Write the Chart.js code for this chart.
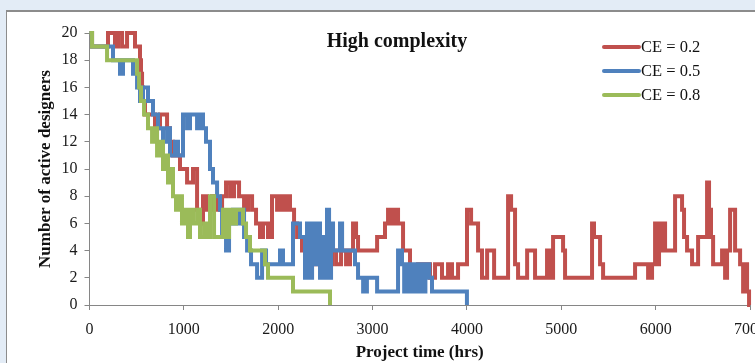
<!DOCTYPE html>
<html>
<head>
<meta charset="utf-8">
<script src="https://cdn.jsdelivr.net/npm/chart.js@4.4.0/dist/chart.umd.min.js"></script>
<style>
  html, body { margin: 0; padding: 0; overflow: hidden; width: 755px; height: 363px; background: #e3ecf6; }
  #panel { position: absolute; left: 6px; top: 10px; width: 800px; height: 400px; background: #fff;
           border-left: 1px solid #8c8c8c; border-top: 2px solid #8c8c8c; }
  #wrap { position: absolute; left: 0; top: 0; }
</style>
</head>
<body>
<div id="panel"></div>
<div id="wrap"><canvas id="chart" width="800" height="363"></canvas></div>
<script>
// step data: each value holds from its time until the next time
const redTimes = [0,27,196,270,302,345,398,482,535,546,557,567,588,694,747,822,853,885,959,1034,
  1097,1140,1171,1203,1245,1298,1352,1405,1447,1490,1532,1585,1638,1680,1723,1765,1807,1839,1892,1934,
  1988,2020,2051,2083,2125,2168,2200,2252,2295,2337,2380,2443,2507,2570,2613,2666,2719,2761,2793,2825,
  2846,3048,3132,3164,3196,3238,3270,3323,3397,3482,3609,3662,3736,3800,3842,3906,4001,4044,4118,4160,
  4214,4288,4436,4468,4510,4542,4638,4722,4849,4881,4913,5019,5040,5326,5347,5411,5443,5782,5920,5962,
  5994,6015,6036,6057,6079,6100,6206,6280,6301,6333,6386,6450,6545,6566,6587,6609,6704,6736,6757,6789,
  6842,6895,6927,6948,6969,6990,7000];
const redVals = [20,19,20,19,20,19,20,19,18,17,16,15,14,13,14,13,12,11,10,9,
  10,7,6,8,7,8,7,8,9,8,9,8,7,8,7,6,5,6,5,8,
  7,8,7,8,7,6,5,4,3,4,3,4,3,4,3,4,3,4,6,5,
  4,5,6,7,6,7,6,4,2,3,2,3,2,3,2,3,7,6,4,2,
  4,2,8,7,3,2,4,2,4,2,5,4,2,6,5,3,2,3,2,3,
  6,3,6,4,6,4,8,7,5,4,3,5,9,7,5,3,4,2,4,7,
  4,3,1,3,1,0,0];

const blueTimes = [0,27,249,323,355,461,504,535,567,620,673,726,779,822,853,906,938,991,1034,1065,
  1140,1171,1203,1235,1277,1309,1352,1383,1405,1447,1479,1521,1553,1595,1638,1670,1712,1776,1829,1871,
  2019,2051,2157,2231,2284,2305,2337,2359,2390,2422,2443,2475,2496,2517,2539,2560,2581,2655,2677,2814,
  2846,2900,2940,3048,3270,3312,3335,3365,3400,3425,3465,3495,3535,3560,3600,3630,4000];
const blueVals = [20,19,18,17,18,17,16,15,16,15,14,13,12,13,11,12,11,14,13,14,
  13,14,13,12,10,9,8,7,5,4,6,7,6,7,5,4,3,2,4,3,
  4,3,6,5,2,6,2,6,3,6,2,5,2,7,2,6,4,6,4,3,
  2,1,2,1,4,3,1,3,1,3,1,3,1,3,2,1,0];

const greenTimes = [0,27,186,504,525,546,578,620,663,694,716,747,779,811,832,864,885,917,949,980,
  1012,1044,1065,1097,1140,1171,1214,1245,1277,1320,1415,1447,1479,1521,1553,1627,1659,1701,1860,1892,
  2157,2549];
const greenVals = [20,19,18,17,16,15,14,13,12,13,11,12,10,11,9,10,8,7,8,6,
  7,5,7,6,7,5,6,5,8,5,7,5,7,6,7,6,5,4,3,2,
  1,0];

const seriesLabels = ['CE = 0.2', 'CE = 0.5', 'CE = 0.8'];
const seriesColors = ['#c0504d', '#4f81bd', '#9bbb59'];
const xTicks = [0, 1000, 2000, 3000, 4000, 5000, 6000, 7000];
const yTicks = [0, 2, 4, 6, 8, 10, 12, 14, 16, 18, 20];

const serif = '"Liberation Serif", "Times New Roman", serif';
const axisGray = '#868686';

function pairs(ts, vs) {
  return ts.map((t, i) => ({ x: t, y: vs[i] }));
}

function mkSeries(i, ts, vs, order) {
  return {
    label: seriesLabels[i],
    data: pairs(ts, vs),
    borderColor: seriesColors[i],
    backgroundColor: seriesColors[i],
    borderWidth: 4,
    pointRadius: 0,
    stepped: true,
    fill: false,
    clip: 6,
    order: order,
  };
}

// title + legend sit inside the plot, so draw them by hand
const overlay = {
  id: 'overlay',
  afterDraw(chart) {
    const ctx = chart.ctx;
    ctx.save();
    ctx.fillStyle = '#111';
    ctx.font = 'bold 20px ' + serif;
    ctx.textAlign = 'center';
    ctx.textBaseline = 'middle';
    ctx.fillText('High complexity', 397, 42);

    ctx.font = '16.5px ' + serif;
    ctx.textAlign = 'left';
    chart.data.datasets.forEach((ds, i) => {
      const y = 47 + i * 24;
      ctx.strokeStyle = ds.borderColor;
      ctx.lineWidth = 4;
      ctx.lineCap = 'round';
      ctx.beginPath();
      ctx.moveTo(604, y);
      ctx.lineTo(639, y);
      ctx.stroke();
      ctx.fillStyle = '#111';
      ctx.fillText(ds.label, 641, y + 1);
    });
    ctx.restore();
  }
};

const plain = (v) => String(v);

new Chart(document.getElementById('chart'), {
  type: 'line',
  data: {
    datasets: [
      mkSeries(0, redTimes, redVals, 2),
      mkSeries(1, blueTimes, blueVals, 1),
      mkSeries(2, greenTimes, greenVals, 0),
    ]
  },
  options: {
    responsive: false,
    animation: false,
    layout: { padding: { left: 0, right: 50, top: 33, bottom: 0 } },
    plugins: {
      legend: { display: false },
      title: { display: false },
      tooltip: { enabled: false },
    },
    scales: {
      x: {
        type: 'linear',
        min: 0,
        max: 7000,
        afterBuildTicks: (s) => { s.ticks = xTicks.map(v => ({ value: v })); },
        afterFit: (s) => { s.height = 58; },
        grid: { drawOnChartArea: false, drawTicks: true, tickLength: 5, color: axisGray },
        border: { color: axisGray, width: 1 },
        ticks: { color: '#1a1a1a', padding: 10, maxRotation: 0, callback: plain, font: { family: serif, size: 16 } },
        title: {
          display: true,
          text: 'Project time (hrs)',
          color: '#111',
          padding: { top: 0, bottom: 0 },
          font: { family: serif, size: 17, weight: 'bold' }
        }
      },
      y: {
        type: 'linear',
        min: 0,
        max: 20,
        afterBuildTicks: (s) => { s.ticks = yTicks.map(v => ({ value: v })); },
        afterFit: (s) => { s.width = 89.5; },
        grid: { drawOnChartArea: false, drawTicks: true, tickLength: 5, color: axisGray },
        border: { color: axisGray, width: 1 },
        ticks: { color: '#1a1a1a', padding: 7, callback: plain, font: { family: serif, size: 16 } },
        title: {
          display: true,
          text: 'Number of active designers',
          color: '#111',
          padding: { top: 35, bottom: 0 },
          font: { family: serif, size: 17, weight: 'bold' }
        }
      }
    }
  },
  plugins: [overlay]
});
</script>
</body>
</html>
